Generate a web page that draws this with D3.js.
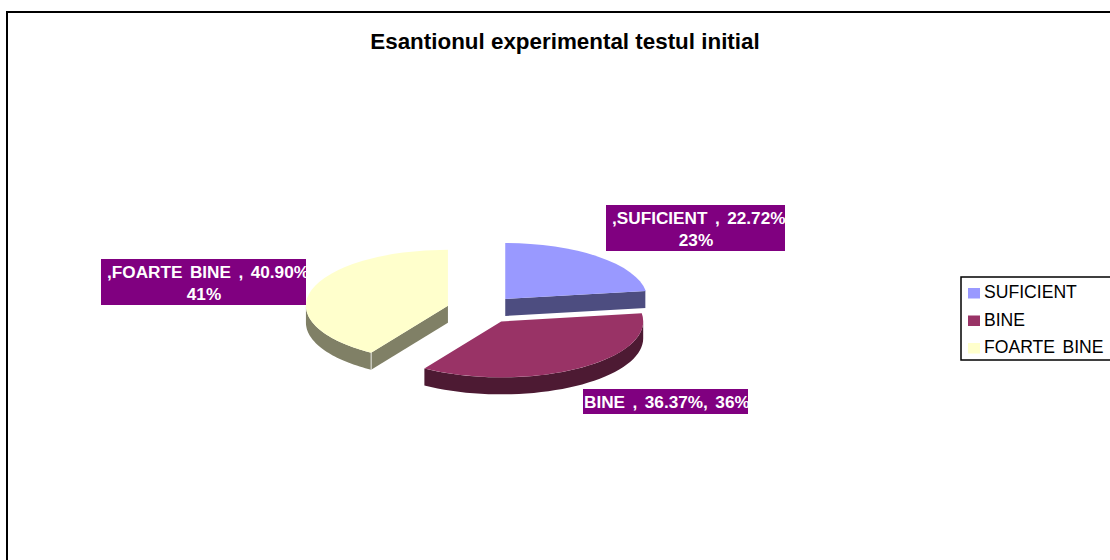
<!DOCTYPE html>
<html>
<head>
<meta charset="utf-8">
<script src="https://cdn.jsdelivr.net/npm/d3@7"></script>
<style>
  html, body { margin: 0; background: #fff; overflow: hidden; }
  text { font-family: "Liberation Sans", Arial, sans-serif; }
</style>
</head>
<body>
<div id="root"></div>
<script>
const categories = ["SUFICIENT", "BINE", "FOARTE BINE"];
const percents = [22.72, 36.37, 40.90];
const rounded = [23, 36, 41];
const colors = ["#9999ff", "#993366", "#ffffcc"];
const sideColors = ["#4d4d80", "#4d1a33", "#808066"];
const chartTitle = "Esantionul experimental testul initial";

const width = 1110;
const height = 560;
const center = { x: 482, y: 309.6 };
const rx = 142;
const ry = 56;
const depth = 17;
const explode = 0.25;
const TAU = Math.PI * 2;

const svg = d3.select("#root").append("svg")
  .attr("width", width)
  .attr("height", height)
  .style("display", "block");

// chart frame, runs off the right and bottom of the picture
svg.append("rect")
  .attr("x", 7)
  .attr("y", 12)
  .attr("width", width + 20)
  .attr("height", height + 20)
  .attr("fill", "#fff")
  .attr("stroke", "#000")
  .attr("stroke-width", 2);

svg.append("text")
  .attr("x", 565)
  .attr("y", 49)
  .attr("text-anchor", "middle")
  .attr("font-size", 22.4)
  .attr("font-weight", "bold")
  .text(chartTitle);

const arcs = d3.pie().sort(null)(percents);
const arc = d3.arc().innerRadius(0).outerRadius(1);

// position on the flattened pie, angle clockwise from 12 o'clock
const onRim = (a, r = 1) => [rx * r * Math.sin(a), -ry * r * Math.cos(a)];

const line = d3.line();

const slices = svg.selectAll("g.slice")
  .data(arcs)
  .join("g")
  .attr("class", "slice")
  .attr("transform", d => {
    const [dx, dy] = onRim((d.startAngle + d.endAngle) / 2, explode);
    return `translate(${center.x + dx},${center.y + dy})`;
  });

// outer wall, only the front half of the rim shows
slices.append("path")
  .attr("fill", (d, i) => sideColors[i])
  .attr("d", d => {
    const a0 = Math.max(d.startAngle, TAU / 4);
    const a1 = Math.min(d.endAngle, TAU * 3 / 4);
    if (a0 >= a1) return null;
    const rim = d3.range(0, 41).map(k => onRim(a0 + (a1 - a0) * k / 40));
    const low = rim.slice().reverse().map(([x, y]) => [x, y + depth]);
    return line(rim.concat(low)) + "Z";
  });

// cut faces that turn towards the viewer
const faceAngle = d => {
  if (d.endAngle < TAU / 2) return d.endAngle;
  if (d.startAngle > TAU / 2) return d.startAngle;
  return null;
};

slices.filter(d => faceAngle(d) !== null).each(function(d, i) {
  const [x, y] = onRim(faceAngle(d));
  const g = d3.select(this);
  g.append("path")
    .attr("fill", sideColors[percents.indexOf(d.value)])
    .attr("d", line([[0, 0], [x, y], [x, y + depth], [0, depth]]) + "Z");
  // thin light seam where the face meets the wall
  g.append("path")
    .attr("fill", "none")
    .attr("stroke", "#fff")
    .attr("stroke-width", 0.8)
    .attr("d", line([[x, y], [x, y + depth]]));
});

slices.append("path")
  .attr("transform", `scale(${rx},${ry})`)
  .attr("fill", (d, i) => colors[i])
  .attr("d", arc);

// data labels
const labelBoxes = [
  { x: 606, y: 205, w: 179, h: 46, tx: 612, cx: 696 },
  { x: 583, y: 389, w: 165, h: 25, tx: 584, cx: 0 },
  { x: 101, y: 259, w: 205, h: 46, tx: 107, cx: 204 },
];
const labelLines = [
  [`,${categories[0]} , ${percents[0].toFixed(2)}%`, `${rounded[0]}%`],
  [`${categories[1]} , ${percents[1].toFixed(2)}%, ${rounded[1]}%`],
  [`,${categories[2]} , ${percents[2].toFixed(2)}%`, `${rounded[2]}%`],
];

const defs = svg.append("defs");
labelBoxes.forEach((b, i) => {
  defs.append("clipPath").attr("id", `label-clip-${i}`)
    .append("rect")
    .attr("x", b.x).attr("y", b.y).attr("width", b.w).attr("height", b.h);

  const g = svg.append("g").attr("clip-path", `url(#label-clip-${i})`);
  g.append("rect")
    .attr("x", b.x).attr("y", b.y).attr("width", b.w).attr("height", b.h)
    .attr("fill", "#800080");
  labelLines[i].forEach((t, k) => {
    g.append("text")
      .attr("x", k === 0 ? b.tx : b.cx)
      .attr("y", b.y + 18.5 + k * 22)
      .attr("text-anchor", k === 0 ? "start" : "middle")
      .attr("font-size", 17.2)
      .attr("word-spacing", 2.7)
      .attr("font-weight", "bold")
      .attr("fill", "#fff")
      .text(t);
  });
});

// legend, clipped by the right edge like the frame
const legend = svg.append("g").attr("transform", "translate(961,277)");
legend.append("rect")
  .attr("width", 170)
  .attr("height", 83)
  .attr("fill", "#fff")
  .attr("stroke", "#000")
  .attr("stroke-width", 1.5);

const legendY = d3.scalePoint().domain(categories).range([15, 70]);

const rows = legend.selectAll("g.row")
  .data(categories)
  .join("g")
  .attr("class", "row")
  .attr("transform", d => `translate(0,${legendY(d)})`);

rows.append("rect")
  .attr("x", 7)
  .attr("y", -4)
  .attr("width", 12)
  .attr("height", 10.5)
  .attr("fill", (d, i) => colors[i]);

rows.append("text")
  .attr("x", 23)
  .attr("y", 6)
  .attr("font-size", 17.6)
  .attr("word-spacing", 2.5)
  .text(d => d);
</script>
</body>
</html>
